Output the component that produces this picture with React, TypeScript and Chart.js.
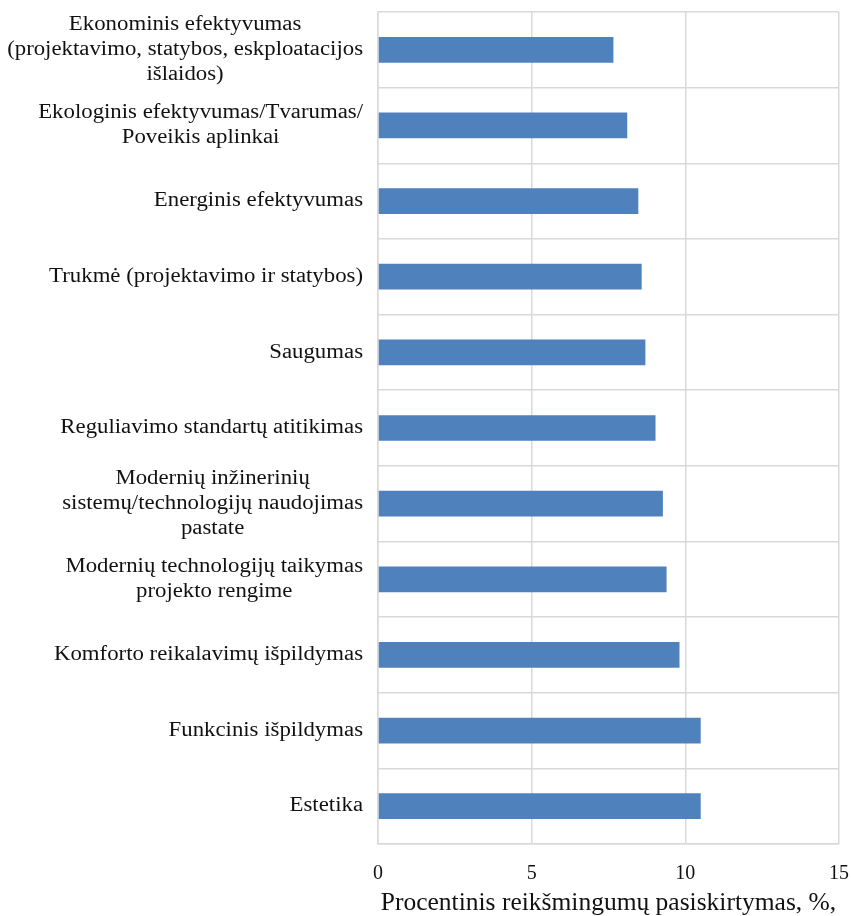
import React, { useEffect, useRef } from "react";
import { Chart, registerables } from "chart.js";

Chart.register(...registerables);

const categories: string[][] = [
  ["Ekonominis efektyvumas", "(projektavimo, statybos, eskploatacijos", "išlaidos)"],
  ["Ekologinis efektyvumas/Tvarumas/", "Poveikis aplinkai"],
  ["Energinis efektyvumas"],
  ["Trukmė (projektavimo ir statybos)"],
  ["Saugumas"],
  ["Reguliavimo standartų atitikimas"],
  ["Modernių inžinerinių", "sistemų/technologijų naudojimas", "pastate"],
  ["Modernių technologijų taikymas", "projekto rengime"],
  ["Komforto reikalavimų išpildymas"],
  ["Funkcinis išpildymas"],
  ["Estetika"],
];

const values: number[] = [7.66, 8.11, 8.47, 8.58, 8.7, 9.03, 9.27, 9.39, 9.81, 10.5, 10.5];

const xMin = 0;
const xMax = 15;
const xStep = 5;

const axisTitle = "Procentinis reikšmingumų pasiskirtymas, %,";

const FONT = '"Liberation Serif", "Times New Roman", serif';
const TEXT = "#111111";
const GRID = "#d9d9d9";

const categoryLabelsPlugin = {
  id: "categoryLabels",
  afterDraw(chart: any) {
    const ctx = chart.ctx as CanvasRenderingContext2D;
    const yScale = chart.scales.y;
    const rightEdge = 363;
    const stretch = 1.14;
    const lineH = 25;
    ctx.save();
    ctx.font = `20px ${FONT}`;
    ctx.fillStyle = TEXT;
    ctx.textAlign = "center";
    ctx.textBaseline = "middle";
    categories.forEach((lines, i) => {
      const cy = yScale.getPixelForValue(i);
      const widths = lines.map((l) => ctx.measureText(l).width * stretch);
      const maxW = Math.max(...widths);
      const cx = rightEdge - maxW / 2;
      lines.forEach((line, j) => {
        const ly = cy + (j - (lines.length - 1) / 2) * lineH;
        ctx.save();
        ctx.translate(cx, ly);
        ctx.scale(stretch, 1);
        ctx.fillText(line, 0, 0);
        ctx.restore();
      });
    });
    ctx.restore();
  },
};

export default function App() {
  const canvasRef = useRef<HTMLCanvasElement | null>(null);

  useEffect(() => {
    const canvas = canvasRef.current;
    if (!canvas) return;
    const chart = new Chart(canvas, {
      type: "bar",
      data: {
        labels: categories.map((c) => c.join(" ")),
        datasets: [
          {
            data: values,
            backgroundColor: "#4f81bd",
            borderWidth: 0,
            barPercentage: 0.34,
            categoryPercentage: 1,
          },
        ],
      },
      options: {
        indexAxis: "y",
        responsive: false,
        maintainAspectRatio: false,
        animation: false,
        layout: { padding: { top: 12, right: 12, left: 0, bottom: 0 } },
        plugins: {
          legend: { display: false },
          tooltip: { enabled: false },
        },
        scales: {
          x: {
            min: xMin,
            max: xMax,
            ticks: {
              stepSize: xStep,
              color: TEXT,
              font: { family: FONT, size: 20 },
              padding: 18,
            },
            grid: { color: GRID, lineWidth: 1.5, drawTicks: false },
            border: { color: GRID, width: 1.5 },
            title: {
              display: true,
              text: axisTitle,
              color: TEXT,
              font: { family: FONT, size: 25.5, lineHeight: 1 },
              padding: { top: 0, bottom: 0 },
            },
            afterFit(scale: any) {
              scale.height = 72;
              scale.paddingLeft = 0;
              scale.paddingRight = 0;
            },
          },
          y: {
            ticks: { display: false },
            grid: { color: GRID, lineWidth: 1.5, drawTicks: false },
            border: { color: GRID, width: 1.5 },
            afterFit(scale: any) {
              scale.width = 378;
            },
          },
        },
      },
      plugins: [categoryLabelsPlugin],
    });
    return () => chart.destroy();
  }, []);

  return (
    <div style={{ position: "absolute", left: 0, top: 0, width: 851, height: 916, background: "#fff" }}>
      <canvas ref={canvasRef} width={851} height={916} style={{ width: 851, height: 916, display: "block" }} />
    </div>
  );
}
